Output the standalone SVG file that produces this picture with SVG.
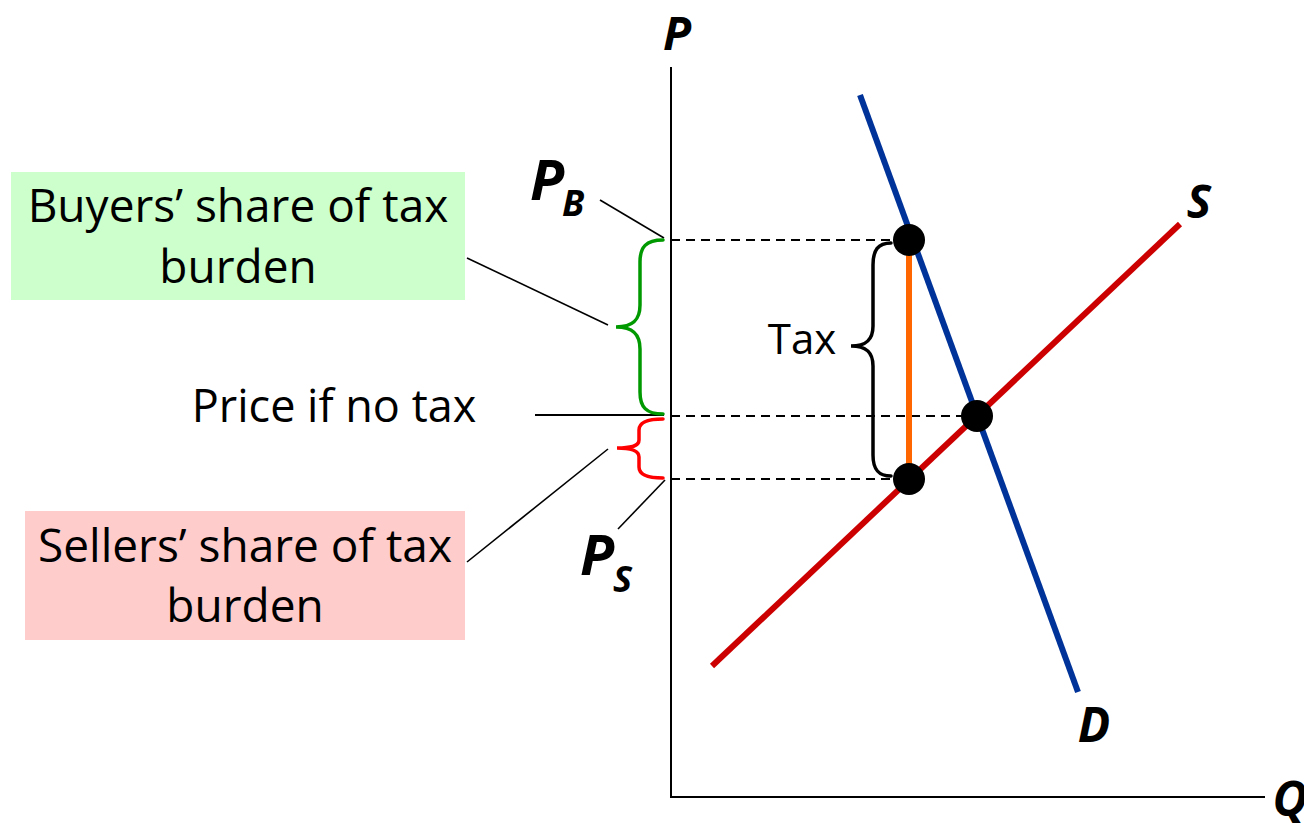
<svg xmlns="http://www.w3.org/2000/svg" width="1304" height="823" viewBox="0 0 1304 823">
<style>
.lbl{font-family:"Open Sans","Liberation Sans",sans-serif;fill:#000}
.bi{font-family:"Open Sans","Liberation Sans",sans-serif;font-weight:bold;font-style:italic;fill:#000}
.axis{stroke:#000;stroke-width:2;fill:none}
.dash{stroke:#000;stroke-width:2;stroke-dasharray:9,6;fill:none}
.lead{stroke:#000;stroke-width:1.6;fill:none}
.brace{fill:none;stroke-width:3.5;stroke-linecap:round}
.dot{fill:#000}
</style>
<rect width="1304" height="823" fill="#fff"/>
<g id="connectors">
  <line class="axis" x1="671" y1="67" x2="671" y2="797"/>
  <line class="axis" x1="670" y1="797" x2="1265" y2="797"/>
  <line class="dash" x1="671" y1="240" x2="893" y2="240"/>
  <line class="dash" x1="671" y1="416" x2="962" y2="416"/>
  <line class="dash" x1="671" y1="479" x2="893" y2="479"/>
  <line class="axis" x1="535" y1="415" x2="664" y2="415"/>
  <line class="lead" x1="600" y1="200" x2="664" y2="238"/>
  <line class="lead" x1="467" y1="258" x2="608" y2="325"/>
  <line class="lead" x1="467" y1="562" x2="608" y2="449"/>
  <line class="lead" x1="618" y1="529" x2="665" y2="480"/>
</g>
<g id="demand">
  <line x1="860" y1="95" x2="1078" y2="692" stroke="#003399" stroke-width="6"/>
  <text class="bi" x="1094" y="742" font-size="48" text-anchor="middle">D</text>
</g>
<g id="supply">
  <line x1="712" y1="666" x2="1180" y2="224" stroke="#CC0000" stroke-width="6"/>
  <text class="bi" x="1199" y="218" font-size="46" text-anchor="middle">S</text>
</g>
<g id="tax-line">
  <line x1="909" y1="240" x2="909" y2="479" stroke="#FF6600" stroke-width="6"/>
</g>
<g id="points">
  <circle class="dot" cx="909" cy="240" r="16"/>
  <circle class="dot" cx="977" cy="416" r="16"/>
  <circle class="dot" cx="909" cy="479" r="16"/>
</g>
<g id="buyers-brace">
  <path class="brace" stroke="#009900" d="M663,240 C646,240 640,247 640,262 L640,305 C640,320 633,327 616,327 C633,327 640,334 640,349 L640,392 C640,407 646,414 663,414"/>
</g>
<g id="sellers-brace">
  <path class="brace" stroke="#FF0000" d="M663,419 C648,419 639,422 639,430 L639,440 C639,446 632,448 617,448 C632,448 639,451 639,457 L639,467 C639,475 648,478 663,478"/>
</g>
<g id="tax-brace">
  <path class="brace" stroke="#000" d="M891,243 C878,243 873,250 873,265 L873,326 C873,340 866,346 851,346 C866,346 873,352 873,366 L873,455 C873,469 878,476 891,476"/>
  <text class="lbl" x="802" y="354" font-size="42" text-anchor="middle">Tax</text>
</g>
<g id="axis-labels">
  <text class="bi" x="677" y="50" font-size="46" text-anchor="middle">P</text>
  <text class="bi" x="1290" y="816" font-size="48" text-anchor="middle">Q</text>
</g>
<g id="pb">
  <text class="bi" x="530" y="200" font-size="56">P</text>
  <text class="bi" x="562" y="216" font-size="36">B</text>
</g>
<g id="ps">
  <text class="bi" x="580" y="575" font-size="56">P</text>
  <text class="bi" x="613" y="592" font-size="36">S</text>
</g>
<g id="price-no-tax">
  <text class="lbl" x="334" y="422" font-size="45" text-anchor="middle">Price if no tax</text>
</g>
<g id="buyers-box">
  <rect x="11" y="172" width="454" height="128" fill="#CCFFCC"/>
  <text class="lbl" x="238" y="222" font-size="46" text-anchor="middle">Buyers’ share of tax</text>
  <text class="lbl" x="238" y="283" font-size="46" text-anchor="middle">burden</text>
</g>
<g id="sellers-box">
  <rect x="25" y="511" width="440" height="129" fill="#FFCCCC"/>
  <text class="lbl" x="245" y="562" font-size="46" text-anchor="middle">Sellers’ share of tax</text>
  <text class="lbl" x="245" y="622" font-size="46" text-anchor="middle">burden</text>
</g>
</svg>
